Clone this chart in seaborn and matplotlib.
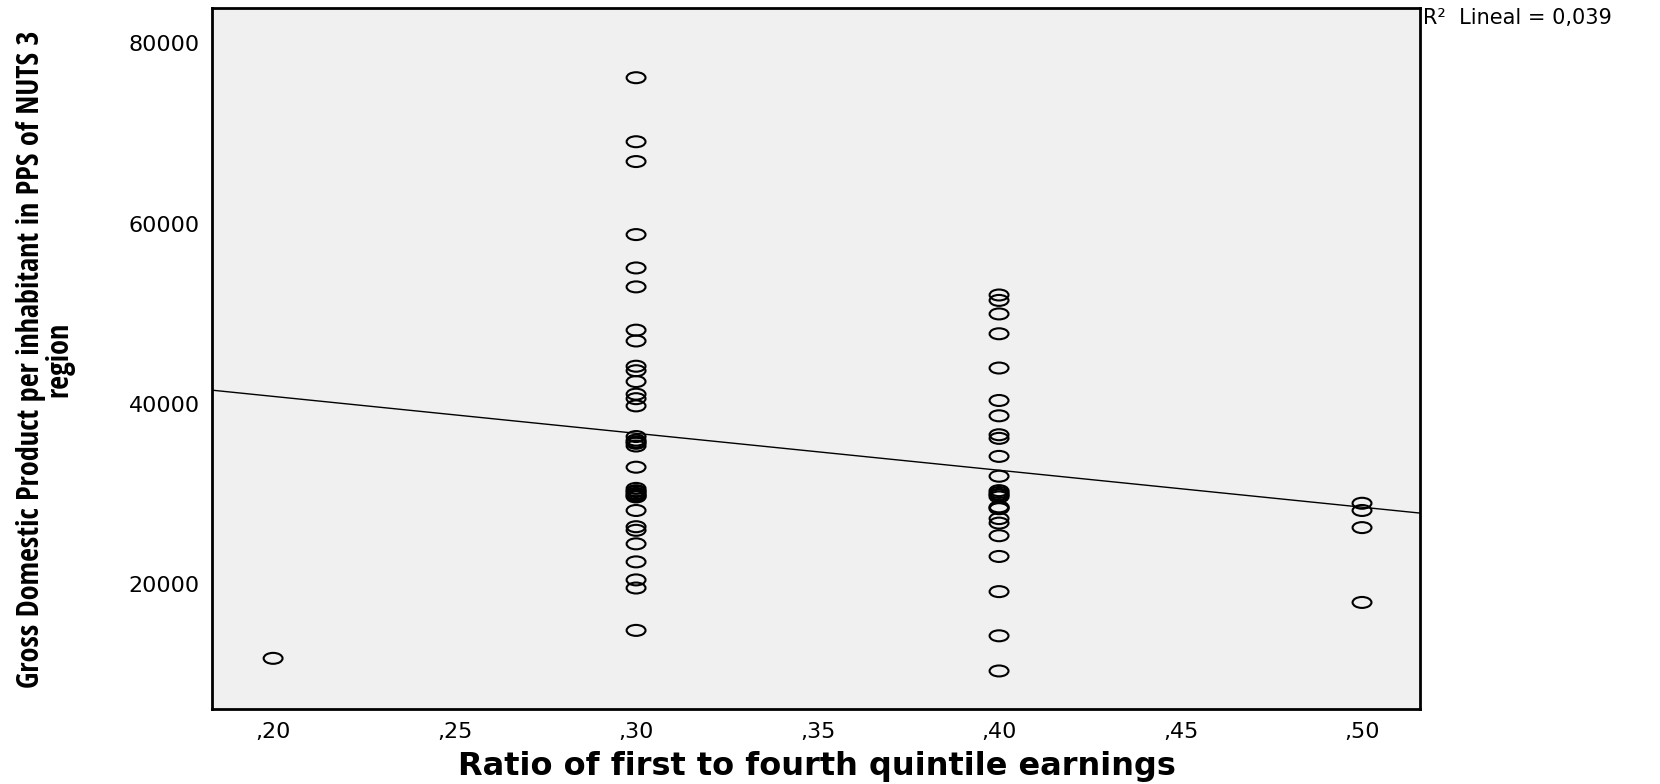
import numpy as np
import pandas as pd
import matplotlib
matplotlib.use("Agg")
import matplotlib.pyplot as plt
from matplotlib.path import Path
from matplotlib.transforms import Affine2D
import seaborn as sns

# GDP per inhabitant (PPS) of NUTS 3 regions, grouped by earnings ratio
ratio_levels = [0.20, 0.30, 0.40, 0.50]
gdp_020 = [11800]
gdp_030 = [76200, 69100, 66900, 58800, 55100, 53000, 48200, 47000, 44200,
           43700, 42500, 41100, 40600, 39800, 36400, 36000, 35800, 35650,
           35350, 33000, 30650, 30400, 30300, 30100, 29950, 29800, 29700,
           28200, 26400, 26000, 24500, 22500, 20500, 19600, 14900]
gdp_040 = [52100, 51500, 50000, 47800, 44000, 40400, 38700, 36600, 36200,
           34200, 32000, 30400, 30200, 30000, 29900, 29700, 28600, 28500,
           28400, 27300, 26800, 25400, 23100, 19200, 14300, 10400]
gdp_050 = [29000, 28200, 26300, 18000]

x_ticks = [0.20, 0.25, 0.30, 0.35, 0.40, 0.45, 0.50]
x_ticklabels = [",20", ",25", ",30", ",35", ",40", ",45", ",50"]
y_ticks = [20000, 40000, 60000, 80000]
y_ticklabels = ["20000", "40000", "60000", "80000"]

x_label = "Ratio of first to fourth quintile earnings"
y_label = "Gross Domestic Product per inhabitant in PPS of NUTS 3\nregion"

groups = [gdp_020, gdp_030, gdp_040, gdp_050]
df = pd.DataFrame({
    "ratio": np.concatenate([[r] * len(g) for r, g in zip(ratio_levels, groups)]),
    "gdp": np.concatenate(groups).astype(float),
})

# linear fit statistics for the annotation
slope, intercept = np.polyfit(df["ratio"], df["gdp"], 1)
pred = intercept + slope * df["ratio"]
r2 = 1 - ((df["gdp"] - pred) ** 2).sum() / ((df["gdp"] - df["gdp"].mean()) ** 2).sum()

sns.set_style("white")
plt.rcParams["font.family"] = ["DejaVu Sans"]
plt.rcParams["text.color"] = "black"
plt.rcParams["axes.labelcolor"] = "black"

fig = plt.figure(figsize=(16.6, 7.84), dpi=100)
ax = fig.add_axes([0.128, 0.0953, 0.7277, 0.8939])
ax.set_facecolor("#f0f0f0")

xlim = (0.1833, 0.5161)
ylim = (6150, 83880)
ax.set_xlim(*xlim)
ax.set_ylim(*ylim)

# open horizontal ellipse marker
ellipse = Path.unit_circle().transformed(Affine2D().scale(1.0, 0.58))

sns.scatterplot(data=df, x="ratio", y="gdp", ax=ax, marker=ellipse, s=185,
                facecolor="none", edgecolor="black", linewidth=1.5,
                legend=False, zorder=3)
sns.regplot(data=df, x="ratio", y="gdp", ax=ax, scatter=False, ci=None,
            truncate=False, line_kws=dict(color="black", linewidth=1.0))

ax.set_xlim(*xlim)
ax.set_ylim(*ylim)

ax.set_xticks(x_ticks)
ax.set_xticklabels(x_ticklabels)
ax.set_yticks(y_ticks)
ax.set_yticklabels(y_ticklabels)
ax.tick_params(axis="both", which="major", direction="out", length=8,
               width=1.8, color="black", labelcolor="black")
ax.tick_params(axis="x", pad=1.5)
ax.tick_params(axis="y", pad=1)
for lab in ax.get_xticklabels() + ax.get_yticklabels():
    lab.set_family(["DejaVu Sans"])
    lab.set_fontsize(16)

for side in ["left", "right", "top", "bottom"]:
    ax.spines[side].set_visible(True)
    ax.spines[side].set_color("black")
    ax.spines[side].set_linewidth(2.0)

ax.set_xlabel(x_label, fontsize=23, fontweight="bold", labelpad=6,
              family=["DejaVu Sans"], color="black")
ax.set_ylabel(y_label, fontsize=21.8, fontweight="bold", labelpad=39,
              family=["Liberation Sans Narrow", "Open Sans Condensed", "DejaVu Sans"],
              fontstretch="condensed", linespacing=0.95, color="black")

r2_text = "R\u00b2  Lineal = " + f"{r2:.3f}".replace(".", ",")
fig.text(0.8572, 0.977, r2_text, ha="left", va="center", fontsize=15,
         family=["DejaVu Sans"], color="black")

fig.savefig("out.png", dpi=100, facecolor="white")
